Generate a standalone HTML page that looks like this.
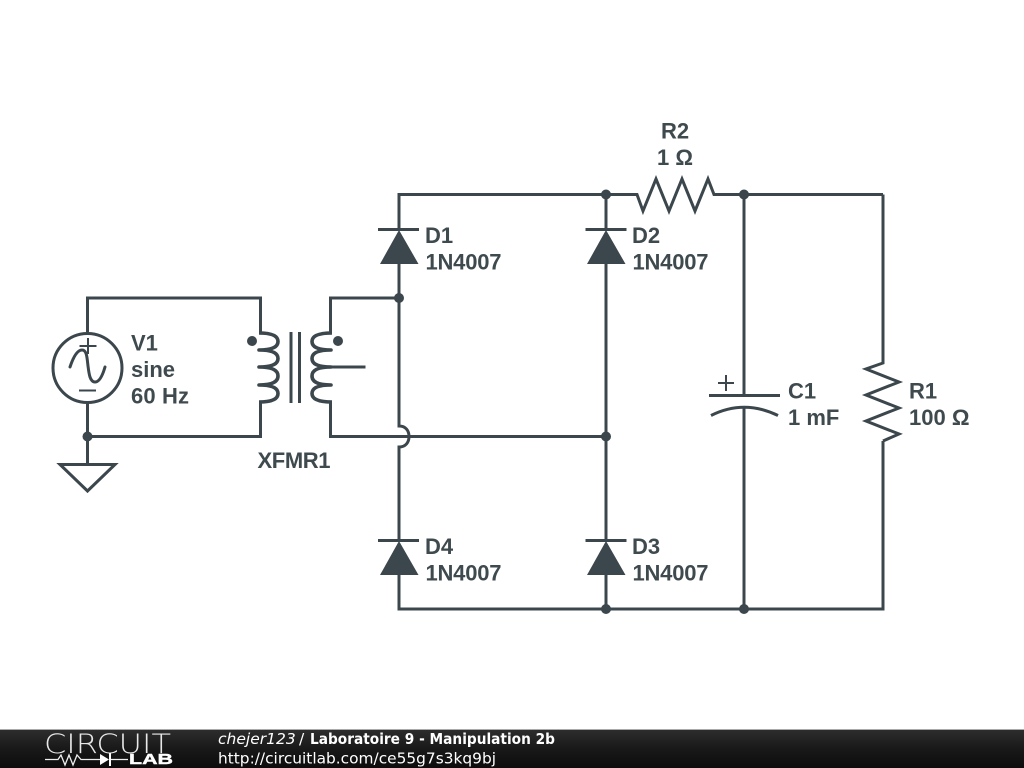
<!DOCTYPE html>
<html><head><meta charset="utf-8"><style>
html,body{margin:0;padding:0;background:#fff;width:1024px;height:768px;overflow:hidden}
svg{display:block}
.w{fill:none;stroke:#3b474c;stroke-width:3;stroke-linecap:butt;stroke-linejoin:miter}
.c{fill:none;stroke:#3b474c;stroke-width:3.6;stroke-linejoin:round}
.n{fill:#3b474c}
.t{font-family:"Liberation Sans",sans-serif;font-weight:bold;font-size:22px;fill:#3f4a4f}
.f{font-family:"DejaVu Sans",sans-serif;font-size:15.5px;fill:#fff}
</style></head><body>
<svg width="1024" height="768" viewBox="0 0 1024 768" xmlns="http://www.w3.org/2000/svg">
<defs><linearGradient id="g" x1="0" y1="0" x2="0" y2="1"><stop offset="0" stop-color="#2e2e2e"/><stop offset="0.5" stop-color="#191919"/><stop offset="1" stop-color="#0c0c0c"/></linearGradient></defs>
<!-- source wires -->
<path class="w" d="M87.5 332V298H260.5V333"/>
<path class="w" d="M87.5 403V464"/>
<path class="w" d="M260.5 402V436.500H87.5"/>
<circle class="n" cx="87.500" cy="436.500" r="5"/>
<path class="w" stroke-linejoin="round" d="M60 464.500H115L87.500 491Z"/>
<!-- V1 -->
<circle class="w" cx="87.500" cy="368" r="34.500"/>
<path class="w" style="stroke-width:2;" d="M88 338V354M79.500 346H96.500M79 390.500H96"/>
<path class="w" style="stroke-width:3;stroke-linecap:round" d="M70 367C73 358 77 350 82 350C87 350 87 358 88 366C89 374 90 382 95 382C100 382 103 374 105 367"/>
<!-- transformer -->
<circle class="n" cx="252" cy="341" r="5"/>
<circle class="n" cx="338" cy="341" r="5"/>
<path class="c" d="M259 333C274 333 278 337 278 341.500C278 346 274 350 259 350C274 350 278 354 278 358.500C278 363 274 367 259 367C274 367 278 371 278 376C278 381 274 385 259 385C274 385 278 389 278 393.500C278 398 274 402 259 402"/>
<path class="c" d="M332 333C316 333 312 337 312 341.500C312 346 316 350 331 350C316 350 312 354 312 358.500C312 363 316 367 331 367C316 367 312 371 312 376C312 381 316 385 331 385C316 385 312 389 312 393.500C312 398 316 402 332 402"/>
<path class="w" d="M291 332V403M299.500 332V403"/>
<path class="w" d="M330.500 333V298H399"/>
<path class="w" d="M330.500 402V436.500H394"/>
<path class="w" d="M330 367H365.500"/>
<!-- bridge -->
<path class="w" d="M399 229V194.500H636"/>
<path class="w" d="M399 264V426C406 426 409 431 409 436.500C409 442 406 447 399 447V540"/>
<path class="w" d="M394 436.500H606.500"/>
<path class="w" d="M399 574V609H883V441"/>
<path class="w" d="M606 229V194M606 264V540M606 574V609"/>
<circle class="n" cx="399" cy="298" r="5"/>
<circle class="n" cx="606" cy="194.500" r="5"/>
<circle class="n" cx="606" cy="436.500" r="5"/>
<circle class="n" cx="606" cy="609" r="5"/>
<circle class="n" cx="744" cy="194.500" r="5"/>
<circle class="n" cx="744" cy="609" r="5"/>
<!-- diodes -->
<path class="w" d="M378 229.500H419M585.500 229.500H626.500M378 540.500H419M585.500 540.500H626.500"/>
<path class="n" d="M399 230L380 264H418.500Z"/>
<path class="n" d="M606 230L587 264H625.500Z"/>
<path class="n" d="M399 541L380 575H418.500Z"/>
<path class="n" d="M606 541L587 575H625.500Z"/>
<!-- R2 -->
<path class="w" d="M636 194.500H637L643 211L656 179L669 211L682 179L695 211L708 179L714 194.500H883"/>
<!-- C1 -->
<path class="w" d="M744 194.500V395M744 408V609"/>
<path class="w" d="M709 395.500H780"/>
<path class="w" d="M711 415.500Q744 399 778 415.500"/>
<path class="w" style="stroke-width:2" d="M726 375V391M718 383H734"/>
<!-- R1 -->
<path class="w" d="M883 194.500V363L866 369L899 382L866 395L899 408L866 421L899 434L883 441"/>
<!-- labels -->
<text class="t" x="131" y="350.500">V1</text>
<text class="t" x="131" y="377">sine</text>
<text class="t" x="131" y="403.500" textLength="58">60 Hz</text>
<text class="t" x="257.500" y="468" textLength="73">XFMR1</text>
<text class="t" x="675" y="138.500" text-anchor="middle">R2</text>
<text class="t" x="675" y="165" text-anchor="middle">1 Ω</text>
<text class="t" x="425" y="243">D1</text>
<text class="t" x="425.500" y="269.500" textLength="76">1N4007</text>
<text class="t" x="632" y="243">D2</text>
<text class="t" x="632.500" y="269.500" textLength="76">1N4007</text>
<text class="t" x="425" y="554">D4</text>
<text class="t" x="425.500" y="580.500" textLength="76">1N4007</text>
<text class="t" x="632" y="554">D3</text>
<text class="t" x="632.500" y="580.500" textLength="76">1N4007</text>
<text class="t" x="788" y="398.500">C1</text>
<text class="t" x="788" y="425">1 mF</text>
<text class="t" x="909" y="398.500">R1</text>
<text class="t" x="909" y="425">100 Ω</text>
<!-- footer -->
<rect x="0" y="729" width="1024" height="39" fill="url(#g)"/>
<rect x="0" y="729" width="1024" height="1" fill="#aaa"/>
<text x="44" y="753" font-family="'DejaVu Sans','Liberation Sans',sans-serif" font-weight="200" font-size="27" fill="#e8e8e8" textLength="127" lengthAdjust="spacingAndGlyphs">CIRCUIT</text>
<path d="M45 759.500H58L61 755L65 765L69 755L73 765L77 755L81 759.500H100M110 759.500H128" fill="none" stroke="#eee" stroke-width="1.300"/>
<path d="M100 754V765L109 759.500Z" fill="#fff"/><rect x="109" y="753" width="2" height="13" fill="#fff"/>
<text x="129" y="764" font-family="'Liberation Sans',sans-serif" font-weight="bold" font-size="14.500" fill="#fff" stroke="#fff" stroke-width=".4" textLength="44" lengthAdjust="spacingAndGlyphs">LAB</text>
<text class="f" x="218" y="744" font-style="italic">chejer123</text>
<text class="f" x="299" y="744">/</text>
<text class="f" x="310" y="744" font-weight="bold" font-size="15" textLength="245" lengthAdjust="spacingAndGlyphs">Laboratoire 9 - Manipulation 2b</text>
<text class="f" x="218" y="763.500" textLength="278" lengthAdjust="spacingAndGlyphs">http://circuitlab.com/ce55g7s3kq9bj</text>
</svg>
</body></html>
